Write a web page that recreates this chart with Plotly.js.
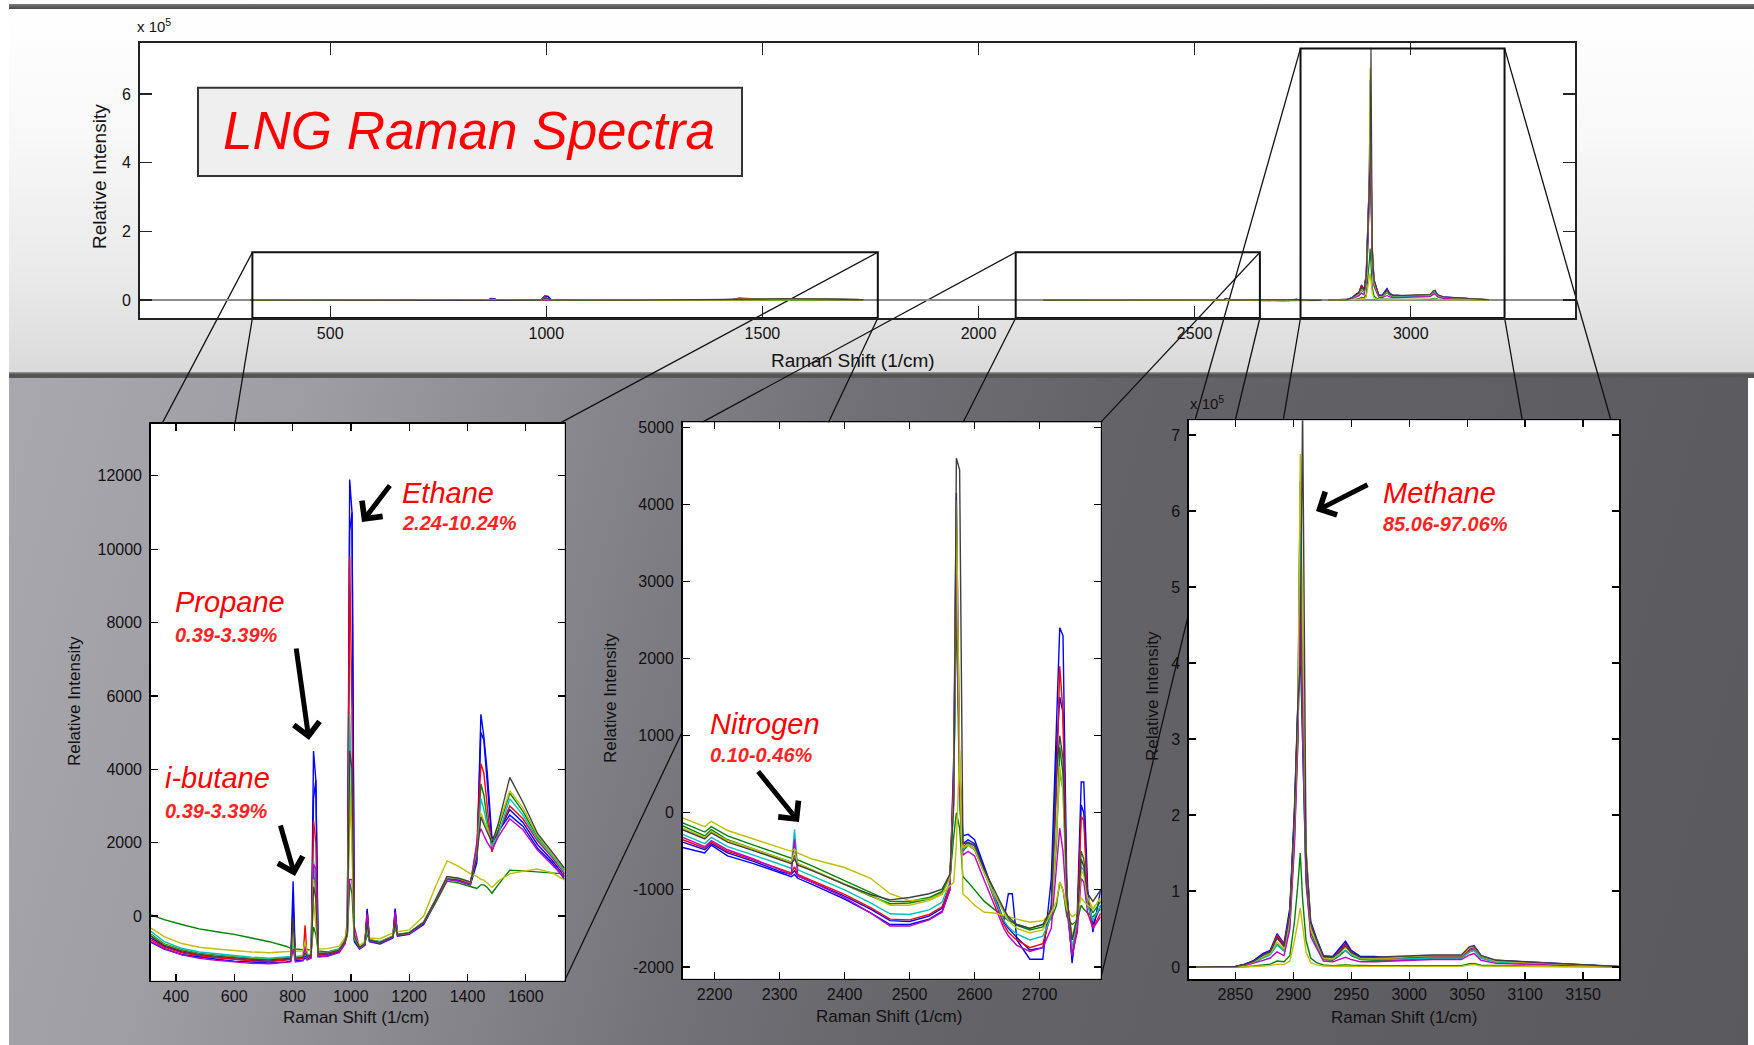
<!DOCTYPE html>
<html>
<head>
<meta charset="utf-8">
<script src="https://cdn.plot.ly/plotly-3.0.1.min.js"></script>
<style>
html,body{margin:0;padding:0;background:#fff;}
#wrap{position:relative;width:1754px;height:1045px;overflow:hidden;background:#fff;}
.bg{position:absolute;}
#topbar{left:9px;top:4px;width:1745px;height:5px;background:linear-gradient(#7a7a7a,#4a4a4a);}
#toparea{left:9px;top:9px;width:1745px;height:364px;background:linear-gradient(to bottom,#ffffff 0%,#f8f8f8 35%,#e9e9e9 75%,#dadada 100%);}
#sep{left:9px;top:372px;width:1745px;height:6px;background:linear-gradient(#9a9a9a,#505050 45%,#5a5a5a);}
#lower{left:9px;top:378px;width:1739px;height:667px;background:linear-gradient(105deg,#aaa8af 0%,#9f9da4 16%,#89888e 30%,#727177 44%,#646368 58%,#5a595e 100%);}
#chart{position:absolute;left:0;top:0;width:1754px;height:1045px;}
</style>
</head>
<body>
<div id="wrap">
<div class="bg" id="topbar"></div>
<div class="bg" id="toparea"></div>
<div class="bg" id="sep"></div>
<div class="bg" id="lower"></div>
<div id="chart"></div>
</div>
<script>
// ---------------- DATA ----------------
// Raman shift grids (1/cm) for the three spectral windows
const shift1 = [315,360,420,480,540,600,660,720,780,794,802,810,836,843,850,864,872,880,888,920,960,980,988,996,1004,1012,1030,1048,1056,1064,1100,1144,1152,1160,1200,1250,1290,1330,1370,1410,1432,1446,1456,1468,1484,1505,1545,1590,1640,1690,1733];
const shift2 = [2151,2185,2195,2220,2260,2300,2318,2323,2328,2350,2400,2440,2470,2500,2530,2550,2562,2568,2572,2577,2582,2590,2600,2615,2630,2645,2652,2658,2665,2685,2705,2718,2726,2731,2736,2742,2750,2758,2764,2768,2774,2782,2794];
const shift3 = [2810,2850,2858,2866,2874,2880,2886,2892,2897,2901,2904,2906,2908,2911,2915,2920,2926,2934,2940,2945,2950,2958,2970,2985,3000,3020,3045,3052,3056,3062,3075,3100,3125,3150,3181];

// Window 1 (300-1750 1/cm) relative intensity
const blueB_1 = [-600,-820,-980,-1080,-1130,-1180,-1210,-1230,-1200,-1180,300,-1180,-1150,-1100,-1130,-1080,3200,3700,-1060,-1040,-950,-720,-400,10500,11000,-650,-880,-780,150,-680,-740,-580,150,-530,-480,-200,400,1020,980,880,1550,5000,4800,3600,2000,2250,2900,2550,1950,1520,1080];
const blueA_1 = [-720,-900,-1050,-1120,-1180,-1230,-1260,-1280,-1250,-1230,950,-1220,-1200,-1150,-1180,-1120,4500,3700,-1100,-1080,-980,-750,-420,11900,11000,-700,-900,-800,200,-700,-760,-600,200,-550,-500,-230,380,1000,950,850,1450,5500,4900,3900,2100,2300,2750,2450,1850,1450,1000];
const greenA_1 = [30,-100,-230,-350,-430,-500,-600,-700,-830,-880,-700,-900,-920,-880,-900,-950,-300,-500,-950,-980,-900,-700,-550,900,600,-650,-850,-750,-500,-650,-700,-560,-350,-520,-480,-200,350,950,900,800,750,850,850,780,620,850,1250,1230,1200,1180,1150];
const greenB_1 = [-500,-760,-920,-1020,-1070,-1120,-1160,-1180,-1150,-1130,-600,-1130,-1100,-1050,-1080,-1040,1200,600,-1010,-1000,-920,-670,-480,3500,2500,-580,-860,-750,-300,-650,-710,-550,-250,-500,-460,-160,440,1060,1010,910,1650,3600,3300,2600,1950,2350,3350,2850,2150,1700,1250];
const red_1 = [-650,-850,-1000,-1080,-1130,-1180,-1220,-1240,-1200,-1180,-300,-1180,-1150,-250,-1120,-1080,2600,2000,-1050,-1030,-950,-700,-150,9800,5500,-500,-870,-760,70,-650,-720,-560,-100,-520,-470,-180,420,1050,1000,900,1900,4150,3900,3000,1750,2250,3000,2650,2050,1600,1150];
const cyan_1 = [-420,-700,-880,-980,-1030,-1080,-1120,-1150,-1120,-1100,-700,-1100,-1080,-1050,-1060,-1030,1500,900,-1000,-990,-900,-650,-450,5500,3000,-600,-850,-740,-350,-640,-700,-540,-300,-500,-450,-160,440,1050,1020,920,1700,3200,2900,2500,1900,2200,3200,2750,2100,1650,1200];
const magenta_1 = [-700,-880,-1060,-1150,-1210,-1260,-1290,-1300,-1270,-1250,-900,-1250,-1220,-800,-1200,-1150,1400,1300,-1120,-1100,-1000,-760,-300,1000,1000,-300,-880,-790,50,-680,-740,-580,100,-530,-480,-200,400,1000,950,860,2000,2380,2200,2000,1800,2150,2650,2350,1800,1400,1050];
const yellowA_1 = [-330,-560,-750,-850,-900,-950,-980,-1000,-980,-960,-600,-960,-950,-700,-950,-930,400,-200,-900,-890,-820,-600,-350,4000,2000,-550,-800,-700,-300,-600,-620,-460,-250,-430,-380,0,800,1500,1350,1150,1080,1000,980,900,780,950,1150,1220,1280,1180,980];
const yellowB_1 = [-520,-780,-940,-1040,-1090,-1140,-1170,-1190,-1160,-1140,-400,-1140,-1110,-1000,-1090,-1050,1000,400,-1020,-1005,-925,-675,-470,3000,2200,-570,-855,-755,-250,-655,-715,-555,-220,-505,-465,-165,435,1070,1020,920,1620,2800,2600,2400,2000,2450,3420,2950,2200,1720,1280];
const gray_1 = [-550,-800,-950,-1050,-1100,-1150,-1180,-1200,-1170,-1150,-50,-1150,-1120,-1000,-1100,-1060,800,500,-1030,-1010,-930,-680,-450,4500,4000,-550,-860,-760,-200,-660,-720,-560,-200,-510,-460,-170,430,1080,1030,930,1600,2700,2500,2300,2000,2500,3780,3100,2250,1750,1300];

// Window 2 (2150-2800 1/cm)
const blueB_2 = [-380,-480,-400,-520,-630,-760,-800,-750,-820,-900,-1080,-1250,-1400,-1410,-1340,-1240,-950,300,3200,500,-400,-350,-400,-720,-1080,-1420,-1500,-1560,-1620,-1780,-1750,-1200,800,1500,1300,-1150,-1900,-1450,100,0,-1100,-1450,-1200];
const blueA_2 = [-450,-520,-420,-560,-660,-780,-830,-800,-850,-930,-1120,-1300,-1450,-1450,-1380,-1280,-1000,750,4150,600,-300,-280,-350,-700,-1050,-1400,-1050,-1050,-1650,-1900,-1900,-860,1150,2400,2300,-1000,-1950,-1300,400,400,-1000,-1550,-1000];
const greenA_2 = [-130,-250,-180,-300,-420,-540,-590,-560,-610,-690,-880,-1030,-1150,-1150,-1100,-1020,-850,-300,0,-200,-830,-900,-1000,-1150,-1250,-1350,-1400,-1420,-1450,-1500,-1450,-1380,-1200,-900,-1000,-1350,-1450,-1400,-1200,-1250,-1300,-1350,-1250];
const greenB_2 = [-170,-300,-220,-350,-470,-590,-640,-550,-660,-740,-930,-1080,-1180,-1170,-1120,-1040,-800,300,2700,100,-500,-420,-480,-780,-1050,-1280,-1380,-1420,-1460,-1520,-1480,-1300,-400,850,500,-1100,-1650,-1350,-500,-600,-1150,-1300,-1150];
const red_2 = [-350,-460,-380,-500,-610,-730,-780,-700,-800,-880,-1060,-1230,-1380,-1390,-1320,-1220,-950,500,3300,400,-450,-380,-430,-750,-1120,-1450,-1550,-1600,-1650,-1750,-1700,-1300,300,1900,1300,-1100,-1850,-1450,-50,-100,-1150,-1500,-1300];
const cyan_2 = [-280,-400,-320,-440,-550,-670,-720,-215,-740,-820,-1000,-1170,-1310,-1320,-1260,-1160,-900,200,3600,200,-480,-400,-460,-780,-1100,-1400,-1480,-1530,-1570,-1650,-1600,-1350,-200,500,300,-1150,-1750,-1400,-700,-750,-1200,-1400,-1200];
const magenta_2 = [-320,-440,-360,-480,-600,-740,-800,-345,-820,-900,-1100,-1300,-1470,-1470,-1390,-1290,-1000,600,3700,300,-550,-500,-560,-880,-1200,-1500,-1600,-1650,-1720,-1800,-1750,-1500,-700,-200,-500,-1250,-1850,-1550,-850,-900,-1300,-1500,-1350];
const yellowA_2 = [-65,-180,-110,-230,-340,-450,-500,-470,-520,-600,-710,-850,-1050,-1140,-1120,-1050,-950,-900,-400,800,-1050,-1120,-1200,-1290,-1300,-1330,-1350,-1370,-1380,-1420,-1400,-1300,-1150,-900,-1000,-1250,-1350,-1300,-1100,-1150,-1200,-1250,-1100];
const yellowB_2 = [-200,-320,-240,-360,-470,-590,-640,-500,-660,-740,-920,-1070,-1200,-1200,-1140,-1060,-850,200,4050,700,-450,-420,-470,-780,-1050,-1300,-1400,-1450,-1500,-1560,-1520,-1300,-300,600,300,-1150,-1600,-1350,-750,-800,-1100,-1250,-1100];
const gray_2 = [-220,-340,-260,-380,-490,-610,-660,-600,-680,-750,-930,-1060,-1130,-1100,-1050,-990,-800,100,4600,4450,-400,-390,-420,-740,-1000,-1250,-1350,-1400,-1450,-1500,-1450,-1250,500,1000,700,-1100,-1650,-1350,-600,-700,-1050,-1150,-1000];

// Window 3 (2810-3180 1/cm), methane region
const blueB_3 = [0,600,3500,8000,16000,20000,40000,28000,72000,200000,345000,420000,300000,120000,52000,33000,13000,12000,23000,31000,20000,13000,13000,12000,13000,14000,14000,24000,26000,14000,8000,6000,4500,2800,600];
const blueA_3 = [0,500,4000,9000,18000,22000,44000,31000,78000,210000,350000,640000,380000,150000,60000,38000,15000,14000,25000,34000,22000,14000,14000,12000,13000,15000,15000,25000,28000,15000,9000,7000,5000,3000,500];
const greenA_3 = [0,0,500,1500,3000,4000,8000,7000,15000,60000,110000,150000,90000,35000,12000,6000,3000,2000,2500,3000,2500,2000,2000,2000,2000,2000,2000,4500,5000,2500,2000,1500,1000,800,300];
const greenB_3 = [0,300,3000,7000,13000,17000,30000,22000,60000,170000,300000,480000,300000,110000,45000,28000,10000,9000,15000,22000,15000,10000,9000,9000,10000,12000,12000,20000,22000,12000,7000,5000,3500,2000,300];
const red_3 = [0,1000,3000,7000,15000,20000,42000,29000,70000,190000,330000,560000,360000,140000,55000,35000,13000,12000,22000,30000,20000,12000,12000,11000,12000,13000,13000,22000,24000,13000,8000,6000,4000,2500,1000];
const cyan_3 = [0,300,2500,6000,12000,16000,29000,21000,60000,180000,320000,620000,350000,130000,50000,30000,11000,10000,18000,22000,16000,11000,10000,10000,11000,12000,12000,20000,22000,12000,7000,5000,3500,2000,300];
const magenta_3 = [0,200,2000,5000,9000,12000,20000,15000,50000,160000,300000,500000,330000,120000,40000,25000,8000,7000,10000,13000,10000,7000,7000,8000,9000,10000,10000,16000,18000,9000,5000,4000,3000,1500,200];
const yellowA_3 = [0,0,200,800,1500,2000,4000,3500,8000,35000,60000,78000,55000,20000,6000,3000,1500,1000,1200,1500,1200,1000,1000,1000,1000,1000,1000,3000,3500,1500,1000,800,600,500,200];
const yellowB_3 = [0,400,3000,7000,14000,18000,33000,24000,65000,190000,330000,675000,465000,160000,50000,32000,12000,11000,19000,26000,18000,12000,12000,12000,14000,15000,15000,25000,27000,14000,8000,6000,4500,2500,500];
const gray_3 = [0,800,3500,8000,16000,20000,38000,27000,70000,200000,350000,400000,735000,150000,58000,36000,14000,13000,20000,28000,19000,13000,13000,14000,15000,16000,16000,27000,28000,15000,9000,7000,5000,3000,800];

// Tick labels
const topXTicks = [500,1000,1500,2000,2500,3000];
const topYTicks = [0,200000,400000,600000];
const topYLabels = ['0','2','4','6'];
const p1XTicks = [400,600,800,1000,1200,1400,1600];
const p1YTicks = [0,2000,4000,6000,8000,10000,12000];
const p2XTicks = [2200,2300,2400,2500,2600,2700];
const p2YTicks = [-2000,-1000,0,1000,2000,3000,4000,5000];
const p3XTicks = [2850,2900,2950,3000,3050,3100,3150];
const p3YTicks = [0,100000,200000,300000,400000,500000,600000,700000];
const p3YLabels = ['0','1','2','3','4','5','6','7'];

// ---------------- BUILD ----------------
const W = 1754, H = 1045;
const px = v => v / W;
const py = v => 1 - v / H;
const FONT = 'Liberation Sans, Arial, sans-serif';

const series = [
  {c:'#0000FF', d:[blueB_1, blueB_2, blueB_3]},
  {c:'#0000FF', d:[blueA_1, blueA_2, blueA_3]},
  {c:'#008000', d:[greenA_1, greenA_2, greenA_3]},
  {c:'#008000', d:[greenB_1, greenB_2, greenB_3]},
  {c:'#FF0000', d:[red_1, red_2, red_3]},
  {c:'#00BFBF', d:[cyan_1, cyan_2, cyan_3]},
  {c:'#BF00BF', d:[magenta_1, magenta_2, magenta_3]},
  {c:'#BFBF00', d:[yellowA_1, yellowA_2, yellowA_3]},
  {c:'#BFBF00', d:[yellowB_1, yellowB_2, yellowB_3]},
  {c:'#404040', d:[gray_1, gray_2, gray_3]}
];
const grids = [shift1, shift2, shift3];
series.forEach((s, i) => s.d.forEach((arr, k) => {
  if (arr.length !== grids[k].length) throw new Error('length mismatch series ' + i + ' window ' + (k+1) + ': ' + arr.length + ' vs ' + grids[k].length);
}));

const traces = [];
series.forEach(s => {
  traces.push({type:'scatter', mode:'lines',
    x: shift1.concat([null], shift2, [null], shift3),
    y: s.d[0].concat([null], s.d[1], [null], s.d[2]),
    xaxis:'x', yaxis:'y', line:{color:s.c, width:1.2}, hoverinfo:'skip', showlegend:false});
  for (let k = 0; k < 3; k++) {
    traces.push({type:'scatter', mode:'lines', x: grids[k], y: s.d[k],
      xaxis:'x' + (k+2), yaxis:'y' + (k+2), line:{color:s.c, width:1.4},
      hoverinfo:'skip', showlegend:false});
  }
});

function axis(domain, range, tickvals, ticktext, anchor, extra) {
  return Object.assign({
    domain: domain, range: range, anchor: anchor,
    tickmode:'array', tickvals: tickvals, ticktext: ticktext,
    showline:true, mirror:'ticks', linecolor:'#000', linewidth:1.6,
    ticks:'inside', ticklen:7, tickwidth:1.3, tickcolor:'#000',
    showgrid:false, zeroline:false, fixedrange:true,
    tickfont:{family:FONT, size:16, color:'#111'},
    ticklabelstandoff:4
  }, extra || {});
}

// panel rectangles in px
const TOP = {l:140, r:1575, t:43.3, b:318};
const P1 = {l:150.8, r:564.6, t:423.6, b:980.8};
const P2 = {l:682.7, r:1100.7, t:422.4, b:978.7};
const P3 = {l:1189, r:1619, t:420.3, b:979};
const TOPY0 = -52400, TOPY1 = 748000;
const XSTAND = {ticklabelstandoff:0};

const layout = {
  width: W, height: H, autosize:false,
  margin:{l:0, r:0, t:0, b:0, pad:0},
  paper_bgcolor:'rgba(0,0,0,0)', plot_bgcolor:'rgba(0,0,0,0)',
  showlegend:false,
  font:{family:FONT, color:'#111'},
  xaxis: axis([px(TOP.l), px(TOP.r)], [60, 3380], topXTicks, topXTicks.map(String), 'y',
              {ticklen:12, linewidth:2, linecolor:'#222', tickcolor:'#222', ticklabelstandoff:0}),
  yaxis: axis([py(TOP.b), py(TOP.t)], [TOPY0, TOPY1], topYTicks, topYLabels, 'x',
              {ticklen:12, linewidth:2, linecolor:'#222', tickcolor:'#222',
               zeroline:true, zerolinecolor:'#8c8c8c', zerolinewidth:2}),
  xaxis2: axis([px(P1.l), px(P1.r)], [314, 1733], p1XTicks, p1XTicks.map(String), 'y2', XSTAND),
  yaxis2: axis([py(P1.b), py(P1.t)], [-1766, 13423], p1YTicks, p1YTicks.map(String), 'x2'),
  xaxis3: axis([px(P2.l), px(P2.r)], [2151, 2794], p2XTicks, p2XTicks.map(String), 'y3', XSTAND),
  yaxis3: axis([py(P2.b), py(P2.t)], [-2153, 5066], p2YTicks, p2YTicks.map(String), 'x3'),
  xaxis4: axis([px(P3.l), px(P3.r)], [2810, 3181], p3XTicks, p3XTicks.map(String), 'y4', XSTAND),
  yaxis4: axis([py(P3.b), py(P3.t)], [-15600, 719500], p3YTicks, p3YLabels, 'x4')
};

// ---------------- SHAPES ----------------
const shapes = [];
const rectPx = (R, fill) => ({type:'rect', xref:'paper', yref:'paper', x0:px(R.l), x1:px(R.r), y0:py(R.b), y1:py(R.t),
  fillcolor:fill, line:{width:0}, layer:'below'});
shapes.push(rectPx(TOP, '#ffffff'));
// connector lines (px coords: x0,y0 -> x1,y1)
const connectors = [
  [252.4,252.3,162,423.6],[252.4,318,235,423.6],[877.8,252.3,559,423.6],[877.8,318,564.6,980.8],
  [1015.7,252.3,702,422.4],[1015.7,318,682.7,978.7],[1259.9,252.3,1100.7,422.4],[1259.9,318,1100.7,978.7],
  [1300.5,48.4,1195,420.3],[1300.5,318,1189,979],[1504.6,48.4,1611,420.3],[1504.6,318,1619,979]
];
connectors.forEach(c => shapes.push({type:'line', xref:'paper', yref:'paper',
  x0:px(c[0]), y0:py(c[1]), x1:px(c[2]), y1:py(c[3]), line:{color:'#111', width:1.3}, layer:'below'}));
[P1, P2, P3].forEach(R => shapes.push(rectPx(R, '#ffffff')));
// zoom boxes on the overview axes
[[320,1767,139000],[2086,2651,139000],[2745,3217,733000]].forEach(b => shapes.push({
  type:'rect', xref:'x', yref:'y', x0:b[0], x1:b[1], y0:TOPY0, y1:b[2],
  line:{color:'#111', width:2}, fillcolor:'rgba(0,0,0,0)', layer:'above'}));
// title box
shapes.push({type:'rect', xref:'paper', yref:'paper', x0:px(198), x1:px(742), y0:py(176), y1:py(87.7),
  fillcolor:'#efefef', line:{color:'#333', width:2}, layer:'above'});
layout.shapes = shapes;

// ---------------- ANNOTATIONS ----------------
const ann = [];
function txt(text, x, y, size, opts) {
  ann.push(Object.assign({xref:'paper', yref:'paper', x:px(x), y:py(y), text:text, showarrow:false,
    xanchor:'left', yanchor:'middle', font:{family:FONT, size:size, color:'#111'}}, opts || {}));
}
function arrow(hx, hy, tx, ty) {
  ann.push({xref:'paper', yref:'paper', x:px(hx), y:py(hy), ax:tx - hx, ay:ty - hy, text:'',
    showarrow:true, arrowhead:4, arrowsize:1, arrowwidth:5, arrowcolor:'#000', standoff:0});
}
// title
txt('<i>LNG Raman Spectra</i>', 469, 131, 53, {xanchor:'center', font:{family:FONT, size:53, color:'#FF0000'}});
// exponent labels
txt('x 10<sup>5</sup>', 135, 25, 15);
txt('x 10<sup>5</sup>', 1188, 403, 15);
// axis titles
txt('Raman Shift (1/cm)', 853, 360, 19, {xanchor:'center'});
txt('Relative Intensity', 99, 177, 19, {xanchor:'center', textangle:-90});
txt('Raman Shift (1/cm)', 356, 1017, 17, {xanchor:'center'});
txt('Relative Intensity', 74, 701, 17, {xanchor:'center', textangle:-90});
txt('Raman Shift (1/cm)', 889, 1016, 17, {xanchor:'center'});
txt('Relative Intensity', 610, 698, 17, {xanchor:'center', textangle:-90});
txt('Raman Shift (1/cm)', 1404, 1017, 17, {xanchor:'center'});
txt('Relative Intensity', 1152, 696, 17, {xanchor:'center', textangle:-90});
// component labels
const RED = '#FF0000', RED2 = '#FF2424';
txt('<i>Ethane</i>', 400, 493, 29, {font:{family:FONT, size:29, color:RED}});
txt('<b><i>2.24-10.24%</i></b>', 400, 523, 20, {font:{family:FONT, size:20, color:RED2}});
txt('<i>Propane</i>', 173, 602, 29, {font:{family:FONT, size:29, color:RED}});
txt('<b><i>0.39-3.39%</i></b>', 173, 635, 20, {font:{family:FONT, size:20, color:RED2}});
txt('<i>i-butane</i>', 163, 778, 29, {font:{family:FONT, size:29, color:RED}});
txt('<b><i>0.39-3.39%</i></b>', 163, 811, 20, {font:{family:FONT, size:20, color:RED2}});
txt('<i>Nitrogen</i>', 708, 724, 29, {font:{family:FONT, size:29, color:RED}});
txt('<b><i>0.10-0.46%</i></b>', 708, 755, 20, {font:{family:FONT, size:20, color:RED2}});
txt('<i>Methane</i>', 1381, 493, 29, {font:{family:FONT, size:29, color:RED}});
txt('<b><i>85.06-97.06%</i></b>', 1381, 524, 20, {font:{family:FONT, size:20, color:RED2}});
// arrows (head, tail)
arrow(362, 522, 391, 484);
arrow(309, 740, 296, 647);
arrow(295, 876, 280, 824);
arrow(799, 822, 757, 770);
arrow(1316, 511, 1369, 484);
layout.annotations = ann;

Plotly.newPlot('chart', traces, layout, {staticPlot:true, displayModeBar:false});
</script>
</body>
</html>
